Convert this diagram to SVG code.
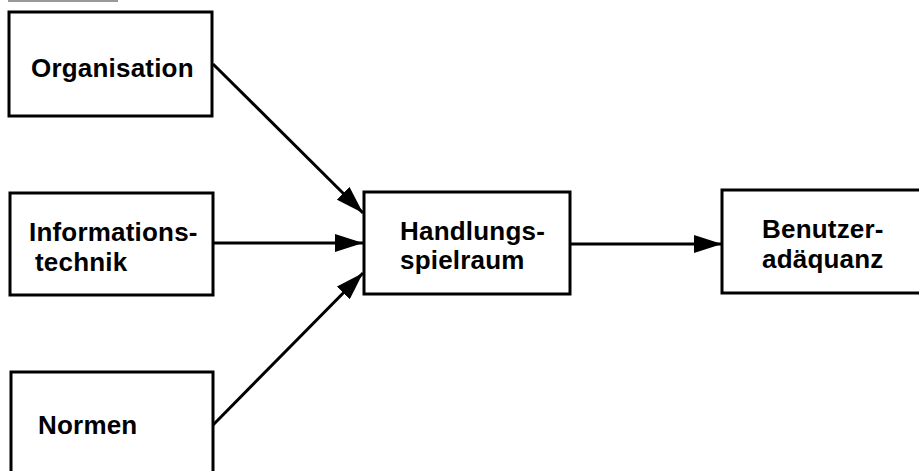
<svg xmlns="http://www.w3.org/2000/svg" width="919" height="471" viewBox="0 0 919 471">
<style>
.box{fill:#fff;stroke:#000;stroke-width:3}
.lbl{font-family:"Liberation Sans",Arial,sans-serif;font-weight:bold;font-size:26px;letter-spacing:0.2px;fill:#000}
.conn{stroke:#000;stroke-width:3;fill:none}
</style>
<defs>
<marker id="ah" viewBox="0 0 28 18" markerWidth="28" markerHeight="18" refX="28" refY="9" orient="auto" markerUnits="userSpaceOnUse">
<path d="M0,0 L28,9 L0,18 Z" fill="#000"/>
</marker>
</defs>
<rect width="919" height="471" fill="#fff"/>
<line x1="8" y1="1" x2="118" y2="1" stroke="#999" stroke-width="2"/>
<g id="organisation">
<rect class="box" x="9" y="12" width="203" height="104"/>
<text class="lbl" x="31" y="77">Organisation</text>
</g>
<g id="informationstechnik">
<rect class="box" x="10" y="193" width="203" height="102"/>
<text class="lbl" x="29" y="241">Informations-</text>
<text class="lbl" x="35" y="271">technik</text>
</g>
<g id="normen">
<rect class="box" x="11" y="372" width="202" height="110"/>
<text class="lbl" x="38" y="434">Normen</text>
</g>
<g id="handlungsspielraum">
<rect class="box" x="364" y="192" width="206" height="102"/>
<text class="lbl" x="400" y="240">Handlungs-</text>
<text class="lbl" x="400" y="269">spielraum</text>
</g>
<g id="benutzeradaequanz">
<rect class="box" x="722" y="190" width="205" height="103"/>
<text class="lbl" x="762" y="238">Benutzer-</text>
<text class="lbl" x="762" y="268">adäquanz</text>
</g>
<g id="connectors">
<line class="conn" x1="213" y1="64" x2="363" y2="213" marker-end="url(#ah)"/>
<line class="conn" x1="213" y1="243" x2="363" y2="243" marker-end="url(#ah)"/>
<line class="conn" x1="213" y1="425" x2="363" y2="273" marker-end="url(#ah)"/>
<line class="conn" x1="570" y1="244" x2="722" y2="244" marker-end="url(#ah)"/>
</g>
</svg>
